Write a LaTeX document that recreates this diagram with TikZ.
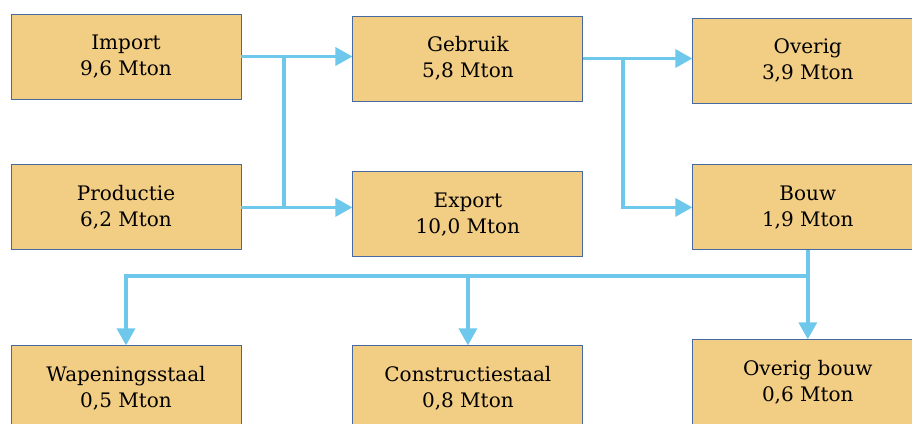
\documentclass[tikz,border=0pt]{standalone}
\usepackage{fontspec}
\setmainfont{DejaVu Serif}
\usepackage{tikz}
\usetikzlibrary{positioning}
\usetikzlibrary{arrows.meta}
\definecolor{boxfill}{RGB}{242,205,132}
\definecolor{boxline}{RGB}{70,105,160}
\definecolor{flowblue}{RGB}{110,200,236}
\begin{document}
\begin{tikzpicture}[
x=1pt, y=-1pt,
massnode/.style={rectangle, draw=boxline, fill=boxfill, line width=0.9pt, minimum width=230pt, minimum height=85pt, align=center, font=\fontsize{20}{26}\selectfont},
flowline/.style={draw=flowblue, line width=3.5pt},
flowarrow/.style={flowline, -{Triangle[length=17pt,width=18pt]}},
]
\useasboundingbox (0,0) rectangle (912,423);
%Nodes
\node[massnode]		(import)		at (126,56.5)				{Import\\9,6 Mton};
\node[massnode]		(productie)		[below=65pt of import]		{Productie\\6,2 Mton};
\node[massnode]		(gebruik)		[right=111pt of import, yshift=-2pt]	{Gebruik\\5,8 Mton};
\node[massnode]		(export)		[below=70pt of gebruik]		{Export\\10,0 Mton};
\node[massnode]		(overig)		[right=109pt of gebruik, yshift=-2pt]	{Overig\\3,9 Mton};
\node[massnode]		(bouw)			[below=61pt of overig]		{Bouw\\1,9 Mton};
\node[massnode]		(wapening)		[below=95pt of productie]	{Wapeningsstaal\\0,5 Mton};
\node[massnode]		(constructie)	[below=88pt of export]		{Constructiestaal\\0,8 Mton};
\node[massnode]		(overigbouw)	[below=89pt of bouw]		{Overig bouw\\0,6 Mton};

\coordinate (split1) at (284,0);
\coordinate (split2) at (623,0);
\coordinate (split3) at (0,276);

%Lines
\draw[flowarrow] (import.east) -- (import.east -| gebruik.west);
\draw[flowarrow] (productie.east) -- (productie.east -| export.west);
\draw[flowline] (import.east -| split1) -- (productie.east -| split1);
\draw[flowarrow] (gebruik.east) -- (gebruik.east -| overig.west);
\draw[flowarrow] (gebruik.east -| split2) |- (bouw.west);
\draw[flowarrow] (bouw.south) -- (overigbouw.north);
\draw[flowarrow] (bouw.south |- split3) -| (wapening.north);
\draw[flowarrow] (bouw.south |- split3) -| (constructie.north);
\end{tikzpicture}
\end{document}
